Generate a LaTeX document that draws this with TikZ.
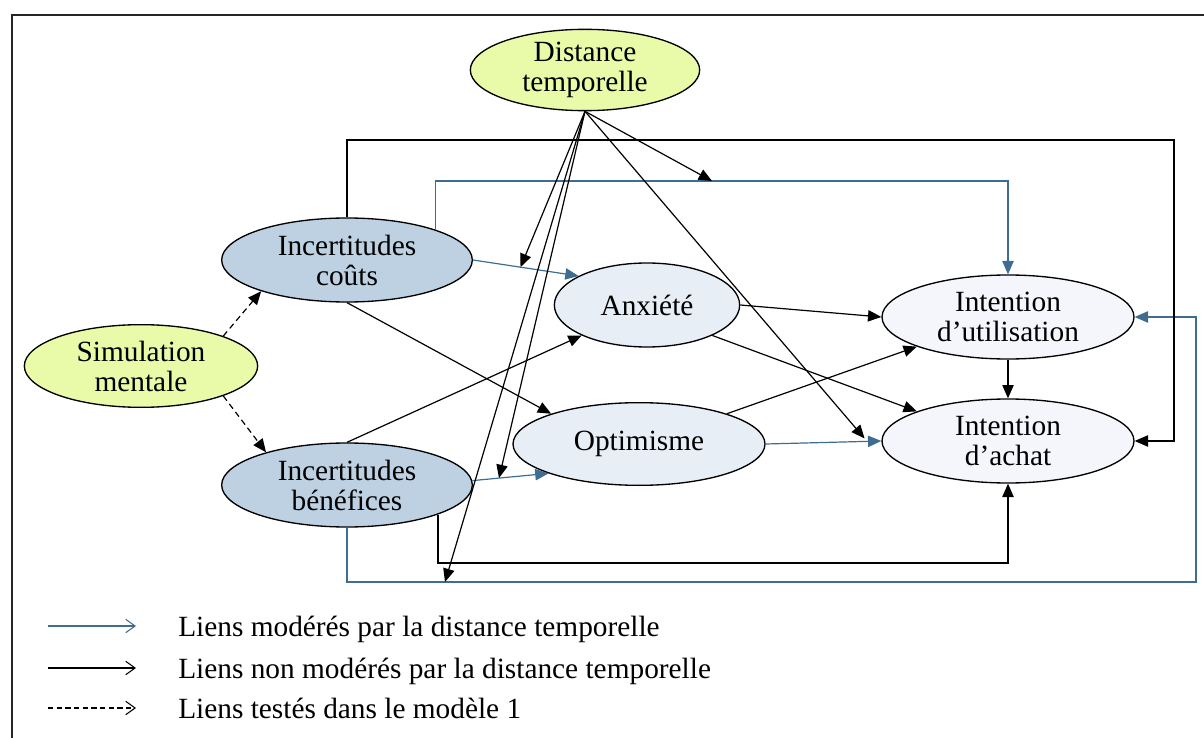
\documentclass[tikz,border=0pt]{standalone}
\usepackage{fontspec}
\setmainfont{Liberation Serif}
\usetikzlibrary{shapes.geometric,arrows.meta,calc}
\definecolor{simfill}{HTML}{E9FAA8}
\definecolor{uncfill}{HTML}{BDD1E3}
\definecolor{medfill}{HTML}{E8EEF6}
\definecolor{outfill}{HTML}{F4F6FB}
\definecolor{linkblue}{HTML}{3F6C91}
\begin{document}
\begin{tikzpicture}[x=0.75pt,y=-0.75pt,
  every node/.style={font=\fontsize{22}{22.5}\selectfont},
  var/.style={ellipse,draw=black,line width=1pt,inner sep=0pt,align=center},
  link/.style={line width=0.9pt,-{Triangle[length=10pt,width=8.5pt]}},
  modlink/.style={link,draw=linkblue},
  tested/.style={link,dash pattern=on 4.5pt off 3pt},
  legline/.style={line width=0.8pt,-{Straight Barb[length=7pt,width=10pt,line width=0.8pt]}},
]
\useasboundingbox (0,0) rectangle (1204,738);
% outer frame (left and top edges)
\draw[line width=1.5pt,black!85] (12,738) -- (12,15) -- (1204,15);

% variables
\node[var,fill=simfill,minimum width=172pt,minimum height=61pt] (D) at (585,70) {Distance\\temporelle};
\node[var,fill=simfill,minimum width=175pt,minimum height=62pt] (S) at (141,366) {Simulation\\mentale};
\node[var,fill=uncfill,minimum width=188pt,minimum height=63pt] (C) at (347,260) {Incertitudes\\coûts};
\node[var,fill=uncfill,minimum width=188pt,minimum height=63pt] (B) at (347,485) {Incertitudes\\bénéfices};
\node[var,fill=medfill,minimum width=139pt,minimum height=63pt] (A) at (647,305) {Anxiété};
\node[var,fill=medfill,minimum width=189pt,minimum height=62pt] (O) at (639,444) {Optimisme};
\node[var,fill=outfill,minimum width=189pt,minimum height=63pt] (U) at (1008,317) {Intention\\d’utilisation};
\node[var,fill=outfill,minimum width=189pt,minimum height=63pt] (H) at (1008,441) {Intention\\d’achat};

% corner points of the routed links
\coordinate (bt) at (1008,181);
\coordinate (bb) at (1196,582);
\coordinate (kt) at (1174,140);
\coordinate (kb) at (1008,563);

% links tested in model 1
\draw[tested] (S.20) -- (C.200);
\draw[tested] (S.-20) -- (B.158);

% moderated links
\draw[modlink] (C.east) -- (A.157);
\draw[modlink] (B.2) -- (O.198);
\draw[modlink] (O.east) -- (H.west);
\draw[modlink] (C.19) |- (bt) -- (U.north);
\draw[modlink] (B.south) |- (bb) |- (U.east);

% non-moderated links
\draw[link] (C.south) -- (O.161);
\draw[link] (B.north) -- (A.205);
\draw[link] (A.east) -- (U.west);
\draw[link] (A.-25) -- (H.162);
\draw[link] (O.19) -- (U.198);
\draw[link] (U.south) -- (H.north);
\draw[link] (C.north) |- (kt) |- (H.east);
\draw[link] (B.-18) |- (kb) -- (H.south);

% moderation by temporal distance, pointing at the moderated links
\coordinate (m1) at ($(C.east)!0.45!(A.157)$);
\coordinate (m2) at ($(B.2)!0.35!(O.198)$);
\coordinate (m3) at (445,582);
\coordinate (m4) at (712,181);
\coordinate (m5) at ($(O.east)!0.855!(H.west)+(0,-3)$);
\draw[link] (D.south) -- (m1);
\draw[link] (D.south) -- (m2);
\draw[link] (D.south) -- (m3);
\draw[link] (D.south) -- (m4);
\draw[link] (D.south) -- (m5);

% legend
\coordinate (l1a) at (48,626);  \coordinate (l1b) at (136,626);
\coordinate (l2a) at (48,668);  \coordinate (l2b) at (136,668);
\coordinate (l3a) at (48,708);  \coordinate (l3b) at (136,708);
\draw[legline,draw=linkblue] (l1a) -- (l1b);
\draw[legline] (l2a) -- (l2b);
\draw[legline,dash pattern=on 4pt off 2.5pt] (l3a) -- (l3b);
\node[anchor=base west,inner sep=0pt] (t1) at (178,636) {Liens modérés par la distance temporelle};
\node[anchor=base west,inner sep=0pt] (t2) at (178,678) {Liens non modérés par la distance temporelle};
\node[anchor=base west,inner sep=0pt] (t3) at (178,718) {Liens testés dans le modèle 1};
\end{tikzpicture}
\end{document}
